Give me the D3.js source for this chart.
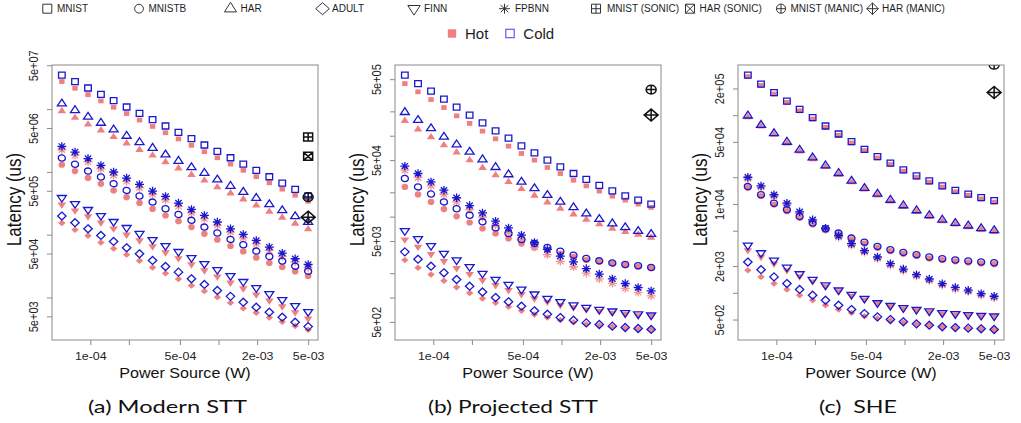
<!DOCTYPE html>
<html>
<head>
<meta charset="utf-8">
<script src="https://cdn.jsdelivr.net/npm/d3@7"></script>
<style>
  body { margin: 0; background: #fff; }
  svg { display: block; }
</style>
</head>
<body>
<div id="chart"></div>
<script>
// ---- data (latency in us) ----
var power = [6.0e-5, 7.6e-5, 9.6e-5, 1.21e-4, 1.52e-4, 1.92e-4, 2.42e-4, 3.06e-4, 3.86e-4, 4.87e-4,
             6.15e-4, 7.76e-4, 9.79e-4, 1.24e-3, 1.56e-3, 1.97e-3, 2.49e-3, 3.14e-3, 3.96e-3, 5.0e-3];

var datasets = ["MNIST", "MNISTB", "HAR", "ADULT", "FINN", "FPBNN"];
var captions = ["(a) Modern STT", "(b) Projected STT", "(c)  SHE"];

// (a) Modern STT
var modernMNISTCold  = [3.47e7, 2.74e7, 2.17e7, 1.72e7, 1.36e7, 1.08e7, 8.57e6, 6.79e6, 5.38e6, 4.26e6, 3.38e6, 2.68e6, 2.12e6, 1.68e6, 1.33e6, 1.06e6, 8.36e5, 6.62e5, 5.25e5, 4.16e5];
var modernMNISTHot   = [2.75e7, 2.15e7, 1.7e7, 1.35e7, 1.07e7, 8.5e6, 6.7e6, 5.3e6, 4.2e6, 3.35e6, 2.65e6, 2.1e6, 1.68e6, 1.33e6, 1.06e6, 8.4e5, 6.7e5, 5.3e5, 4.25e5, 3.4e5];
var modernMNISTBCold = [1.66e6, 1.32e6, 1.03e6, 8.28e5, 6.49e5, 5.07e5, 4.12e5, 3.30e5, 2.59e5, 2.10e5, 1.69e5, 1.32e5, 1.06e5, 8.40e4, 6.90e4, 5.47e4, 4.50e4, 3.79e4, 3.15e4, 2.62e4];
var modernMNISTBHot  = [1.3e6, 1.03e6, 8.0e5, 6.45e5, 5.05e5, 3.95e5, 3.2e5, 2.57e5, 2.02e5, 1.64e5, 1.32e5, 1.03e5, 8.3e4, 6.6e4, 5.4e4, 4.3e4, 3.55e4, 3.05e4, 2.6e4, 2.2e4];
var modernHARCold    = [1.22e7, 9.58e6, 7.50e6, 6.01e6, 4.71e6, 3.73e6, 2.96e6, 2.40e6, 1.88e6, 1.49e6, 1.18e6, 9.59e5, 7.51e5, 5.95e5, 4.78e5, 3.83e5, 3.03e5, 2.44e5, 1.95e5, 1.59e5];
var modernHARHot     = [9.3e6, 7.3e6, 5.7e6, 4.6e6, 3.6e6, 2.85e6, 2.25e6, 1.83e6, 1.43e6, 1.14e6, 9.0e5, 7.3e5, 5.7e5, 4.55e5, 3.65e5, 2.93e5, 2.32e5, 1.87e5, 1.5e5, 1.22e5];
var modernADULTCold  = [1.98e5, 1.55e5, 1.24e5, 9.72e4, 7.80e4, 6.18e4, 4.96e4, 3.88e4, 3.11e4, 2.53e4, 1.98e4, 1.61e4, 1.29e4, 1.04e4, 8.41e3, 7.00e3, 5.82e3, 4.84e3, 4.03e3, 3.43e3];
var modernADULTHot   = [1.53e5, 1.2e5, 9.6e4, 7.5e4, 6.0e4, 4.8e4, 3.85e4, 3.0e4, 2.42e4, 1.97e4, 1.55e4, 1.26e4, 1.01e4, 8.2e3, 6.7e3, 5.7e3, 4.8e3, 4.1e3, 3.5e3, 3.05e3];
var modernFINNCold   = [3.88e5, 3.11e5, 2.50e5, 2.00e5, 1.61e5, 1.29e5, 1.04e5, 8.30e4, 6.66e4, 5.35e4, 4.29e4, 3.44e4, 2.76e4, 2.21e4, 1.78e4, 1.42e4, 1.14e4, 9.17e3, 7.36e3, 5.90e3];
var modernFINNHot    = [3.0e5, 2.42e5, 1.95e5, 1.56e5, 1.25e5, 1.0e5, 8.1e4, 6.5e4, 5.2e4, 4.2e4, 3.35e4, 2.7e4, 2.15e4, 1.72e4, 1.39e4, 1.11e4, 8.9e3, 7.2e3, 5.8e3, 4.6e3];
var modernFPBNNCold  = [2.55e6, 2.07e6, 1.63e6, 1.27e6, 9.95e5, 7.98e5, 6.32e5, 4.95e5, 4.07e5, 3.19e5, 2.52e5, 2.03e5, 1.59e5, 1.24e5, 1.01e5, 8.09e4, 6.34e4, 5.08e4, 4.13e4, 3.35e4];
var modernFPBNNHot   = [2.25e6, 1.83e6, 1.44e6, 1.12e6, 8.8e5, 7.05e5, 5.6e5, 4.4e5, 3.6e5, 2.82e5, 2.23e5, 1.8e5, 1.41e5, 1.1e5, 8.9e4, 7.15e4, 5.6e4, 4.5e4, 3.65e4, 2.96e4];

// (b) Projected STT
var projMNISTCold  = [5.60e5, 4.41e5, 3.56e5, 2.83e5, 2.25e5, 1.80e5, 1.44e5, 1.15e5, 9.33e4, 7.50e4, 6.14e4, 4.99e4, 4.12e4, 3.41e4, 2.88e4, 2.43e4, 2.08e4, 1.81e4, 1.60e4, 1.43e4];
var projMNISTHot   = [4.41e5, 3.49e5, 2.80e5, 2.23e5, 1.76e5, 1.42e5, 1.14e5, 9.16e4, 7.43e4, 6.03e4, 4.99e4, 4.05e4, 3.41e4, 2.82e4, 2.40e4, 2.07e4, 1.79e4, 1.60e4, 1.43e4, 1.30e4];
var projMNISTBCold = [2.96e4, 2.33e4, 1.90e4, 1.52e4, 1.25e4, 1.04e4, 8.62e3, 7.27e3, 6.19e3, 5.21e3, 4.65e3, 4.15e3, 3.74e3, 3.34e3, 3.04e3, 2.84e3, 2.68e3, 2.56e3, 2.47e3, 2.35e3];
var projMNISTBHot  = [2.33e4, 1.88e4, 1.52e4, 1.24e4, 1.01e4, 8.46e3, 7.13e3, 6.19e3, 5.37e3, 4.65e3, 4.15e3, 3.85e3, 3.50e3, 3.18e3, 2.90e3, 2.76e3, 2.63e3, 2.51e3, 2.40e3, 2.31e3];
var projHARCold    = [1.95e5, 1.56e5, 1.23e5, 9.68e4, 7.78e4, 6.32e4, 5.08e4, 4.08e4, 3.32e4, 2.69e4, 2.23e4, 1.84e4, 1.52e4, 1.30e4, 1.09e4, 9.31e3, 8.22e3, 7.35e3, 6.61e3, 6.07e3];
var projHARHot     = [1.53e5, 1.20e5, 9.59e4, 7.64e4, 6.21e4, 4.99e4, 4.01e4, 3.25e4, 2.69e4, 2.20e4, 1.82e4, 1.50e4, 1.26e4, 1.07e4, 9.20e3, 8.07e3, 7.13e3, 6.49e3, 6.01e3, 5.52e3];
var projADULTCold  = [3.67e3, 2.98e3, 2.44e3, 2.02e3, 1.67e3, 1.38e3, 1.17e3, 1.00e3, 885, 782, 685, 623, 566, 525, 486, 464, 443, 426, 414, 403];
var projADULTHot   = [2.90e3, 2.33e3, 1.93e3, 1.61e3, 1.34e3, 1.14e3, 973, 859, 767, 685, 617, 566, 525, 496, 469, 451, 435, 418, 406, 399];
var projFINNCold   = [6.67e3, 5.32e3, 4.36e3, 3.50e3, 2.90e3, 2.40e3, 1.98e3, 1.67e3, 1.45e3, 1.26e3, 1.10e3, 973, 885, 805, 753, 711, 678, 647, 623, 605];
var projFINNHot    = [5.21e3, 4.24e3, 3.44e3, 2.81e3, 2.31e3, 1.95e3, 1.64e3, 1.42e3, 1.23e3, 1.10e3, 973, 885, 805, 753, 711, 678, 647, 623, 600, 589];
var projFPBNNCold  = [4.21e4, 3.41e4, 2.69e4, 2.12e4, 1.71e4, 1.37e4, 1.11e4, 8.79e3, 7.27e3, 5.90e3, 4.79e3, 3.93e3, 3.25e3, 2.76e3, 2.28e3, 1.95e3, 1.70e3, 1.49e3, 1.33e3, 1.21e3];
var projFPBNNHot   = [3.75e4, 3.05e4, 2.4e4, 1.89e4, 1.52e4, 1.22e4, 9.9e3, 7.8e3, 6.4e3, 5.2e3, 4.2e3, 3.4e3, 2.8e3, 2.4e3, 2.0e3, 1.7e3, 1.5e3, 1.3e3, 1.16e3, 1.05e3];

// (c) SHE
var sheMNISTCold  = [2.82e5, 2.24e5, 1.79e5, 1.44e5, 1.16e5, 9.37e4, 7.55e4, 6.14e4, 5.04e4, 4.13e4, 3.41e4, 2.88e4, 2.42e4, 2.07e4, 1.82e4, 1.60e4, 1.42e4, 1.29e4, 1.18e4, 1.09e4];
var sheMNISTHot   = [2.72e5, 2.16e5, 1.73e5, 1.39e5, 1.12e5, 9.05e4, 7.3e4, 5.93e4, 4.87e4, 3.99e4, 3.3e4, 2.78e4, 2.34e4, 2.0e4, 1.76e4, 1.55e4, 1.37e4, 1.25e4, 1.14e4, 1.05e4];
var sheMNISTBCold = [1.57e4, 1.27e4, 1.02e4, 8.59e3, 7.24e3, 6.09e3, 5.26e3, 4.70e3, 4.13e3, 3.72e3, 3.33e3, 3.05e3, 2.85e3, 2.69e3, 2.53e3, 2.42e3, 2.34e3, 2.28e3, 2.22e3, 2.18e3];
var sheMNISTBHot  = [1.52e4, 1.23e4, 9.85e3, 8.3e3, 6.99e3, 5.88e3, 5.08e3, 4.54e3, 3.99e3, 3.59e3, 3.21e3, 2.94e3, 2.75e3, 2.6e3, 2.44e3, 2.34e3, 2.26e3, 2.2e3, 2.14e3, 2.1e3];
var sheHARCold    = [9.86e4, 7.74e4, 6.25e4, 4.99e4, 4.06e4, 3.33e4, 2.71e4, 2.22e4, 1.82e4, 1.51e4, 1.30e4, 1.11e4, 9.62e3, 8.45e3, 7.43e3, 6.64e3, 6.09e3, 5.69e3, 5.31e3, 5.04e3];
var sheHARHot     = [9.5e4, 7.47e4, 6.03e4, 4.82e4, 3.92e4, 3.21e4, 2.62e4, 2.14e4, 1.76e4, 1.46e4, 1.25e4, 1.07e4, 9.28e3, 8.15e3, 7.17e3, 6.41e3, 5.88e3, 5.49e3, 5.12e3, 4.86e3];
var sheADULTCold  = [2.22e3, 1.82e3, 1.51e3, 1.27e3, 1.09e3, 938, 824, 724, 647, 583, 536, 500, 471, 447, 432, 414, 406, 400, 393, 386];
var sheADULTHot   = [1.79e3, 1.51e3, 1.27e3, 1.09e3, 938, 824, 724, 647, 594, 545, 513, 488, 462, 444, 429, 414, 403, 396, 389, 383];
var sheFINNCold   = [3.42e3, 2.81e3, 2.32e3, 1.94e3, 1.63e3, 1.41e3, 1.22e3, 1.07e3, 955, 861, 769, 718, 676, 647, 621, 594, 579, 564, 555, 545];
var sheFINNHot    = [3.01e3, 2.53e3, 2.13e3, 1.79e3, 1.53e3, 1.34e3, 1.18e3, 1.04e3, 931, 839, 757, 706, 665, 637, 610, 583, 569, 555, 545, 536];
var sheFPBNNCold  = [2.00e4, 1.60e4, 1.27e4, 1.02e4, 8.17e3, 6.64e3, 5.35e3, 4.39e3, 3.57e3, 2.98e3, 2.53e3, 2.13e3, 1.85e3, 1.60e3, 1.43e3, 1.27e3, 1.15e3, 1.07e3, 979, 914];
var sheFPBNNHot   = [1.92e4, 1.54e4, 1.22e4, 9.8e3, 7.85e3, 6.37e3, 5.14e3, 4.21e3, 3.43e3, 2.86e3, 2.43e3, 2.04e3, 1.78e3, 1.54e3, 1.37e3, 1.22e3, 1.1e3, 1.03e3, 940, 877];

// SONIC / MANIC single points at 5e-3 W, one entry per panel (null = not drawn)
var mnistSonic = [3.6e6, null, null];
var harSonic   = [1.77e6, null, null];
var mnistManic = [3.97e5, 3.72e5, 3.7e5];
var harManic   = [1.9e5, 1.8e5, 1.8e5];

// axis ticks
var xTicks = [1e-4, 2e-4, 5e-4, 1e-3, 2e-3, 5e-3];
var xTickLabels = ["1e-04", "", "5e-04", "", "2e-03", "5e-03"];
var yTicks = [
  [5e7, 1e7, 5e6, 1e6, 5e5, 1e5, 5e4, 1e4, 5e3],
  [5e5, 2e5, 1e5, 5e4, 2e4, 1e4, 5e3, 2e3, 1e3, 5e2],
  [2e5, 1e5, 5e4, 2e4, 1e4, 5e3, 2e3, 1e3, 5e2]
];
var yTickLabels = [
  ["5e+07", "", "5e+06", "", "5e+05", "", "5e+04", "", "5e+03"],
  ["5e+05", "", "", "5e+04", "", "", "5e+03", "", "", "5e+02"],
  ["2e+05", "", "5e+04", "", "1e+04", "", "2e+03", "", "5e+02"]
];

// ---- table built from the arrays ----
var hotData = [
  {MNIST: modernMNISTHot, MNISTB: modernMNISTBHot, HAR: modernHARHot, ADULT: modernADULTHot, FINN: modernFINNHot, FPBNN: modernFPBNNHot},
  {MNIST: projMNISTHot, MNISTB: projMNISTBHot, HAR: projHARHot, ADULT: projADULTHot, FINN: projFINNHot, FPBNN: projFPBNNHot},
  {MNIST: sheMNISTHot, MNISTB: sheMNISTBHot, HAR: sheHARHot, ADULT: sheADULTHot, FINN: sheFINNHot, FPBNN: sheFPBNNHot}
];
var coldData = [
  {MNIST: modernMNISTCold, MNISTB: modernMNISTBCold, HAR: modernHARCold, ADULT: modernADULTCold, FINN: modernFINNCold, FPBNN: modernFPBNNCold},
  {MNIST: projMNISTCold, MNISTB: projMNISTBCold, HAR: projHARCold, ADULT: projADULTCold, FINN: projFINNCold, FPBNN: projFPBNNCold},
  {MNIST: sheMNISTCold, MNISTB: sheMNISTBCold, HAR: sheHARCold, ADULT: sheADULTCold, FINN: sheFINNCold, FPBNN: sheFPBNNCold}
];

// ---- drawing ----
var FONT = "'Liberation Sans', Arial, Helvetica, sans-serif";
var COLD = "#1818d0", HOT = "#f08080", HOTSTAR = "#f29494", GRAY = "#8a8a8a", INK = "#1e1e1e";
var SX = 1.15; // the plot text is a little wider than tall
var shapeOf = {MNIST: "square", MNISTB: "circle", HAR: "triangle", ADULT: "diamond", FINN: "down", FPBNN: "star"};
var coldSize = {square: [3.3, 3.0], circle: [3.5, 3.1], triangle: [4.5, 3.4], diamond: [4.2, 4.0], down: [4.5, 3.3], star: [4.5, 4.2]};
var hotSize  = {square: [2.7, 2.4], circle: [3.3, 3.1], triangle: [4.2, 3.2], diamond: [3.7, 3.2], down: [4.3, 3.2], star: [4.5, 4.2]};

function shapeD(shape, hw, hh) {
  var sq = "M" + (-hw) + "," + (-hh) + "H" + hw + "V" + hh + "H" + (-hw) + "Z";
  var ci = "M" + (-hw) + ",0A" + hw + "," + hh + " 0 1,0 " + hw + ",0A" + hw + "," + hh + " 0 1,0 " + (-hw) + ",0Z";
  var di = "M0," + (-hh) + "L" + hw + ",0L0," + hh + "L" + (-hw) + ",0Z";
  var plus = "M" + (-hw) + ",0H" + hw + "M0," + (-hh) + "V" + hh;
  var k = 0.707;
  switch (shape) {
    case "square": return sq;
    case "circle": return ci;
    case "diamond": return di;
    case "triangle": return "M0," + (-hh * 4 / 3) + "L" + hw + "," + (hh * 2 / 3) + "L" + (-hw) + "," + (hh * 2 / 3) + "Z";
    case "down": return "M0," + (hh * 4 / 3) + "L" + hw + "," + (-hh * 2 / 3) + "L" + (-hw) + "," + (-hh * 2 / 3) + "Z";
    case "star": return plus + "M" + (-hw * k) + "," + (-hh * k) + "L" + (hw * k) + "," + (hh * k) +
                        "M" + (-hw * k) + "," + (hh * k) + "L" + (hw * k) + "," + (-hh * k);
    case "sqplus": return sq + plus;
    case "sqx": return sq + "M" + (-hw) + "," + (-hh) + "L" + hw + "," + hh + "M" + (-hw) + "," + hh + "L" + hw + "," + (-hh);
    case "cplus": return ci + plus;
    case "dplus": return di + plus;
  }
}

var svg = d3.select("#chart").append("svg")
    .attr("width", 1021).attr("height", 423)
    .style("font-family", FONT);

// log-scale extent padded by 4% like R
function padLog(ext) {
  var a = Math.log10(ext[0]), b = Math.log10(ext[1]), p = (b - a) * 0.04;
  return [Math.pow(10, a - p), Math.pow(10, b + p)];
}

var boxLeft = [52, 395, 738], boxW = 266, boxTop = 65, boxBottom = 340;
var capX = [167.5, 513, 858], capW = [159, 170, 78];

boxLeft.forEach(function(left, p) {
  var g = svg.append("g");
  var allVals = [];
  datasets.forEach(function(ds) { allVals = allVals.concat(hotData[p][ds], coldData[p][ds]); });

  var x = d3.scaleLog().domain(padLog(d3.extent(power))).range([left, left + boxW]);
  var y = d3.scaleLog().domain(padLog(d3.extent(allVals))).range([boxBottom, boxTop]);

  var clipId = "clip" + p;
  g.append("clipPath").attr("id", clipId).append("rect")
      .attr("x", left).attr("y", boxTop).attr("width", boxW).attr("height", boxBottom - boxTop);

  var pts = g.append("g").attr("clip-path", "url(#" + clipId + ")");

  // hot first, cold drawn over it
  datasets.forEach(function(ds) {
    var sh = shapeOf[ds], s = hotSize[sh];
    pts.append("g").selectAll("path").data(hotData[p][ds]).join("path")
        .attr("transform", function(d, i) { return "translate(" + x(power[i]) + "," + y(d) + ")"; })
        .attr("d", shapeD(sh, s[0], s[1]))
        .attr("fill", sh === "star" ? "none" : HOT)
        .attr("stroke", sh === "star" ? HOTSTAR : "none")
        .attr("stroke-width", 1.3);
  });
  datasets.forEach(function(ds) {
    var sh = shapeOf[ds], s = coldSize[sh];
    pts.append("g").selectAll("path").data(coldData[p][ds]).join("path")
        .attr("transform", function(d, i) { return "translate(" + x(power[i]) + "," + y(d) + ")"; })
        .attr("d", shapeD(sh, s[0], s[1]))
        .attr("fill", "none")
        .attr("stroke", COLD)
        .attr("stroke-width", 1.3);
  });

  // SONIC / MANIC points
  var extras = [
    {v: mnistSonic[p], shape: "sqplus", s: [4.5, 4.0]},
    {v: harSonic[p], shape: "sqx", s: [4.5, 4.0]},
    {v: mnistManic[p], shape: "cplus", s: [5.0, 4.4]},
    {v: harManic[p], shape: "dplus", s: [7.0, 6.0]}
  ].filter(function(e) { return e.v != null; });
  pts.append("g").selectAll("path").data(extras).join("path")
      .attr("transform", function(e) { return "translate(" + x(power[power.length - 1]) + "," + y(e.v) + ")"; })
      .attr("d", function(e) { return shapeD(e.shape, e.s[0], e.s[1]); })
      .attr("fill", "none").attr("stroke", "#111").attr("stroke-width", 1.5);

  // box
  g.append("rect").attr("x", left).attr("y", boxTop).attr("width", boxW).attr("height", boxBottom - boxTop)
      .attr("fill", "none").attr("stroke", GRAY).attr("stroke-width", 1);

  // x axis
  var xa = g.append("g").attr("transform", "translate(0," + boxBottom + ")")
      .call(d3.axisBottom(x).tickValues(xTicks).tickSize(5).tickPadding(7)
            .tickFormat(function(d, i) { return xTickLabels[i]; }));
  xa.attr("font-family", null);
  xa.select(".domain").remove();
  xa.selectAll("line").attr("stroke", GRAY);
  xa.selectAll("text").attr("fill", INK).style("font-family", FONT).style("font-size", "10.8px")
      .attr("transform", "scale(" + SX + ",1)");

  // y axis with labels parallel to the axis
  var ya = g.append("g").attr("transform", "translate(" + left + ",0)")
      .call(d3.axisLeft(y).tickValues(yTicks[p]).tickSize(5)
            .tickFormat(function(d, i) { return yTickLabels[p][i]; }));
  ya.attr("font-family", null);
  ya.select(".domain").remove();
  ya.selectAll("line").attr("stroke", GRAY);
  ya.selectAll("text").attr("fill", INK).style("font-family", FONT).style("font-size", "11px")
      .attr("x", null).attr("dy", null).attr("text-anchor", "middle")
      .attr("transform", "translate(-14,0) scale(" + SX + ",1) rotate(-90)");

  // axis titles
  g.append("text").attr("transform", "translate(" + (left + boxW / 2) + "," + (boxBottom + 37.5) + ") scale(" + SX + ",1)")
      .attr("text-anchor", "middle").style("font-size", "14px").attr("fill", "#111")
      .text("Power Source (W)");
  g.append("text").attr("transform", "translate(" + (left - 31) + "," + ((boxTop + boxBottom) / 2 - 3) + ") scale(" + SX + ",1) rotate(-90)")
      .attr("text-anchor", "middle").style("font-size", "17px").attr("fill", "#111")
      .text("Latency (us)");

  // caption
  g.append("text").attr("x", capX[p] - capW[p] / 2).attr("y", 412.5)
      .attr("textLength", capW[p]).attr("lengthAdjust", "spacingAndGlyphs")
      .style("white-space", "pre")
      .style("font-family", "Lato, 'Open Sans', sans-serif").style("font-size", "18px").attr("fill", "#111")
      .text(captions[p]);
});

// ---- legend, top row ----
var legendNames = ["MNIST", "MNISTB", "HAR", "ADULT", "FINN", "FPBNN", "MNIST (SONIC)", "HAR (SONIC)", "MNIST (MANIC)", "HAR (MANIC)"];
var legendShapes = ["square", "circle", "triangle", "diamond", "down", "star", "sqplus", "sqx", "cplus", "dplus"];
var legendSizes = [[4.5, 4.5], [4.4, 4.4], [6.0, 4.8], [6.8, 6.0], [6.2, 4.8], [5.5, 5.0], [4.5, 4.5], [4.5, 4.5], [4.6, 4.6], [5.8, 5.8]];
var legendSymX = [47.3, 139, 230.5, 322.5, 414, 504.5, 596, 690, 781, 872.5];
var legendTextX = [57, 148.5, 240.5, 332, 424, 515, 607, 699.5, 790.5, 882];

var lg = svg.append("g");
lg.selectAll("path").data(legendShapes).join("path")
    .attr("transform", function(d, i) { return "translate(" + legendSymX[i] + ",8.7)"; })
    .attr("d", function(d, i) { return shapeD(d, legendSizes[i][0], legendSizes[i][1]); })
    .attr("fill", "none").attr("stroke", "#333").attr("stroke-width", 1);
lg.selectAll("text").data(legendNames).join("text")
    .attr("x", function(d, i) { return legendTextX[i]; }).attr("y", 12.4)
    .style("font-size", "10px").attr("fill", INK).text(function(d) { return d; });

// ---- legend, hot / cold ----
var hcNames = ["Hot", "Cold"];
var hcSymX = [452, 510], hcTextX = [465, 523.3];
var hc = svg.append("g");
hc.selectAll("rect").data(hcNames).join("rect")
    .attr("x", function(d, i) { return hcSymX[i] - 4.2; }).attr("y", 29.3)
    .attr("width", 8.4).attr("height", 8.4)
    .attr("fill", function(d) { return d === "Hot" ? HOT : "none"; })
    .attr("stroke", function(d) { return d === "Hot" ? "none" : "#5e5ee8"; })
    .attr("stroke-width", 1.2);
hc.selectAll("text").data(hcNames).join("text")
    .attr("x", function(d, i) { return hcTextX[i]; }).attr("y", 39)
    .style("font-size", "15px").attr("fill", INK).text(function(d) { return d; });
</script>
</body>
</html>
